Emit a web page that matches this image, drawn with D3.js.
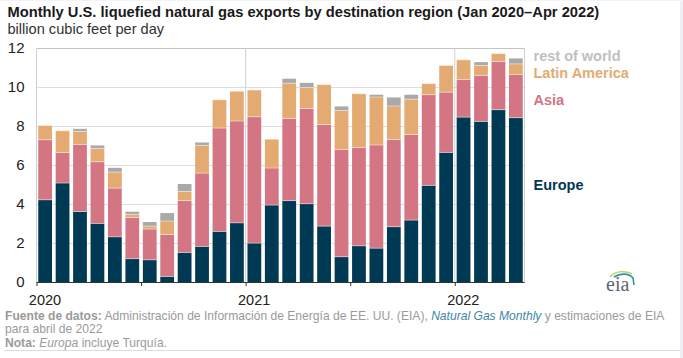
<!DOCTYPE html>
<html>
<head>
<meta charset="utf-8">
<script src="https://cdn.jsdelivr.net/npm/d3@7"></script>
<style>
  html, body { margin: 0; padding: 0; background: #fff; }
  svg { display: block; font-family: "Liberation Sans", Arial, sans-serif; }
</style>
</head>
<body>
<svg></svg>
<script>
// Chart values
const monthCount = 28;
const regions = ["Europe", "Asia", "Latin America", "rest of world"];
const europe = [4.24, 5.1, 3.64, 3.03, 2.34, 1.22, 1.16, 0.31, 1.54, 1.85, 2.62, 3.06, 2.02, 3.97, 4.2, 4.04, 2.89, 1.32, 1.88, 1.76, 2.86, 3.2, 4.98, 6.67, 8.48, 8.26, 8.86, 8.45];
const asia = [3.08, 1.57, 3.44, 3.16, 2.5, 2.11, 1.58, 2.15, 2.66, 3.76, 5.3, 5.22, 6.48, 1.9, 4.21, 4.88, 5.21, 5.5, 5.04, 5.29, 4.47, 4.39, 4.65, 3.09, 1.93, 2.36, 2.47, 2.22];
const latinAmerica = [0.73, 1.11, 0.67, 0.68, 0.82, 0.16, 0.15, 0.69, 0.47, 1.42, 1.45, 1.53, 1.37, 1.48, 1.81, 1.08, 2.05, 2.0, 2.76, 2.46, 1.72, 1.81, 0.57, 1.37, 1.01, 0.51, 0.41, 0.54];
const restOfWorld = [0, 0, 0.13, 0.16, 0.22, 0.14, 0.21, 0.41, 0.38, 0.15, 0, 0, 0, 0, 0.23, 0.24, 0, 0.21, 0, 0.12, 0.44, 0.23, 0, 0, 0, 0.17, 0, 0.28];
const yTicks = [0, 2, 4, 6, 8, 10, 12];
const monthTicks = [0, 6, 12, 18, 24];
const yearLabels = [[0, "2020"], [12, "2021"], [24, "2022"]];

const colors = {
  "Europe": "#003953",
  "Asia": "#d37583",
  "Latin America": "#e3ab72",
  "rest of world": "#a9a9a9"
};

const width = 683, height = 358;
const margin = { top: 48.5, right: 158.5, bottom: 75.5, left: 36.5 };

const svg = d3.select("svg").attr("width", width).attr("height", height);

const x = d3.scaleBand()
    .domain(d3.range(monthCount))
    .range([margin.left, width - margin.right])
    .paddingInner(0.21)
    .paddingOuter(0.1);

// month boundaries, for the ticks and year lines
const xMonth = d3.scaleLinear()
    .domain([0, monthCount])
    .range([margin.left, width - margin.right]);

const y = d3.scaleLinear()
    .domain([0, 12])
    .range([height - margin.bottom, margin.top]);

const rows = d3.range(monthCount).map(i => ({
  "Europe": europe[i],
  "Asia": asia[i],
  "Latin America": latinAmerica[i],
  "rest of world": restOfWorld[i]
}));
const stacked = d3.stack().keys(regions)(rows);

// page frame bits of the screenshot
svg.append("rect").attr("x", 680).attr("y", 0).attr("width", 3).attr("height", height).attr("fill", "#eef0f3");
svg.append("rect").attr("x", 0).attr("y", 0).attr("width", width).attr("height", 1).attr("fill", "#f3f4f6");
svg.append("line")
    .attr("x1", 4).attr("x2", 680).attr("y1", 350.5).attr("y2", 350.5)
    .attr("stroke", "#dcdcdc");

// Title
svg.append("text").attr("x", 7.5).attr("y", 17)
    .attr("font-size", 14.7).attr("font-weight", "bold").attr("fill", "#1a1a1a")
    .text("Monthly U.S. liquefied natural gas exports by destination region (Jan 2020–Apr 2022)");
svg.append("text").attr("x", 7.5).attr("y", 34)
    .attr("font-size", 14.6).attr("fill", "#333")
    .text("billion cubic feet per day");

// Gridlines
svg.append("g").selectAll("line")
    .data(yTicks.filter(d => d > 0))
    .enter().append("line")
    .attr("x1", margin.left).attr("x2", width - margin.right)
    .attr("y1", d => y(d)).attr("y2", d => y(d))
    .attr("stroke", d => d === 12 ? "#c4c4c4" : "#dedede")
    .attr("stroke-width", d => d === 12 ? 1.2 : 1);

// Plot frame and year lines
svg.append("g").selectAll("line")
    .data([0, 12, 24, monthCount])
    .enter().append("line")
    .attr("x1", d => xMonth(d)).attr("x2", d => xMonth(d))
    .attr("y1", y(12)).attr("y2", y(0))
    .attr("stroke", "#cfcfcf");

// Stacked bars
svg.append("g").selectAll("g")
    .data(stacked)
    .enter().append("g")
    .attr("fill", d => colors[d.key])
    .selectAll("rect")
    .data(d => d)
    .enter().append("rect")
    .attr("x", (d, i) => x(i))
    .attr("width", x.bandwidth())
    .attr("y", d => y(d[1]))
    .attr("height", d => Math.max(0, y(d[0]) - y(d[1])));

// Thin light separators between segments
svg.append("g").selectAll("g")
    .data(stacked.slice(0, 3))
    .enter().append("g")
    .selectAll("line")
    .data(d => d)
    .enter().append("line")
    .attr("x1", (d, i) => x(i)).attr("x2", (d, i) => x(i) + x.bandwidth())
    .attr("y1", d => y(d[1])).attr("y2", d => y(d[1]))
    .attr("stroke", "#fff").attr("stroke-opacity", 0.45).attr("stroke-width", 1);

// Y axis labels
svg.append("g").selectAll("text")
    .data(yTicks)
    .enter().append("text")
    .attr("x", 24.5).attr("y", d => y(d) + 4.5)
    .attr("text-anchor", "end")
    .attr("font-size", 15).attr("fill", "#222")
    .text(d => d);

// X axis
const xAxis = d3.axisBottom(xMonth)
    .tickValues(monthTicks)
    .tickSize(3.5)
    .tickFormat("");
const xg = svg.append("g")
    .attr("transform", `translate(0,${y(0)})`)
    .call(xAxis);
xg.select(".domain").attr("stroke", "#333").attr("stroke-width", 1.2).attr("d", `M${margin.left},0H${width - margin.right}`);
xg.selectAll(".tick line").attr("stroke", "#333");

svg.append("g").selectAll("text")
    .data(yearLabels)
    .enter().append("text")
    .attr("x", d => xMonth(d[0]) + 8.5)
    .attr("y", 305)
    .attr("text-anchor", "middle")
    .attr("font-size", 14.5).attr("fill", "#222")
    .text(d => d[1]);

// Direct labels
const labelY = { "rest of world": 61, "Latin America": 77.5, "Asia": 105, "Europe": 190 };
svg.append("g").selectAll("text")
    .data(regions)
    .enter().append("text")
    .attr("x", 533.5).attr("y", d => labelY[d])
    .attr("font-size", 14.5).attr("font-weight", "bold")
    .attr("fill", d => d === "rest of world" ? "#c0c0c0" : colors[d])
    .text(d => d);

// Source notes
const notes = svg.append("g").attr("font-size", 12.1).attr("fill", "#9a9a9a");
const line1 = notes.append("text").attr("x", 5).attr("y", 320);
line1.append("tspan").attr("font-weight", "bold").text("Fuente de datos:");
line1.append("tspan").text(" Administración de Información de Energía de EE. UU. (EIA), ");
line1.append("tspan").attr("font-style", "italic").attr("fill", "#3d86a8").text("Natural Gas Monthly");
line1.append("tspan").text(" y estimaciones de EIA");
notes.append("text").attr("x", 5).attr("y", 333).text("para abril de 2022");
const line3 = notes.append("text").attr("x", 5).attr("y", 347);
line3.append("tspan").attr("font-weight", "bold").text("Nota:");
line3.append("tspan").text(" ");
line3.append("tspan").attr("font-style", "italic").text("Europa");
line3.append("tspan").text(" incluye Turquía.");

// eia logo
const logo = svg.append("g").attr("transform", "translate(606,270)");
logo.append("path").attr("d", "M4,7 C9,1 19,0 26,4").attr("fill", "none").attr("stroke", "#c4d36a").attr("stroke-width", 1.6);
logo.append("path").attr("d", "M8,7 C14,3 23,3 27,8 L28,15").attr("fill", "none").attr("stroke", "#2f8fb8").attr("stroke-width", 1.6);
logo.append("text").attr("x", 0).attr("y", 21)
    .attr("font-family", "Liberation Serif, serif").attr("font-size", 20).attr("fill", "#5a6773")
    .text("eia");
</script>
</body>
</html>
